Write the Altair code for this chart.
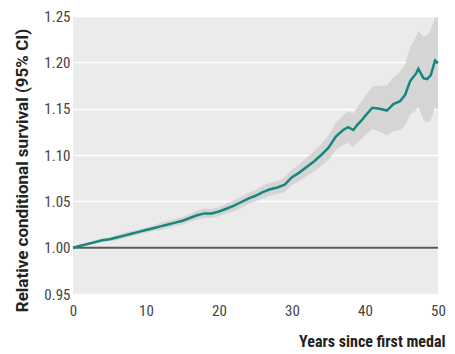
import altair as alt
import pandas as pd

years = [0, 1, 2, 3, 4, 5, 6, 7, 8, 9, 10, 11, 12, 13, 14, 15, 16, 17, 18, 19,
         20, 21, 22, 23, 24, 25, 26, 27, 28, 29, 30, 31, 32, 33, 34, 35, 36, 37,
         37.7, 38.4, 39, 39.5, 40, 41, 42, 43, 43.9, 44.8, 45.5, 46.2, 47, 47.3,
         48, 48.5, 49, 49.6, 50]
rcs = [1.000, 1.002, 1.004, 1.006, 1.008, 1.009, 1.011, 1.013, 1.015, 1.017,
       1.019, 1.021, 1.023, 1.025, 1.027, 1.029, 1.032, 1.035, 1.037, 1.037,
       1.039, 1.042, 1.045, 1.049, 1.053, 1.056, 1.060, 1.063, 1.065, 1.068,
       1.076, 1.081, 1.087, 1.093, 1.100, 1.108, 1.120, 1.127,
       1.130, 1.127, 1.133, 1.137, 1.142, 1.151, 1.150, 1.148, 1.155, 1.158,
       1.165, 1.180, 1.188, 1.193, 1.183, 1.182, 1.186, 1.202, 1.199]
lower = [1.000, 1.001, 1.003, 1.004, 1.006, 1.007, 1.008, 1.010, 1.012, 1.014,
         1.016, 1.018, 1.019, 1.021, 1.023, 1.025, 1.028, 1.030, 1.032, 1.032,
         1.034, 1.037, 1.039, 1.043, 1.047, 1.050, 1.053, 1.056, 1.058, 1.060,
         1.068, 1.072, 1.077, 1.082, 1.088, 1.095, 1.105, 1.111,
         1.113, 1.109, 1.114, 1.117, 1.121, 1.128, 1.125, 1.121, 1.126, 1.127,
         1.132, 1.144, 1.148, 1.152, 1.138, 1.135, 1.137, 1.152, 1.149]
upper = [1.000, 1.003, 1.005, 1.008, 1.010, 1.011, 1.014, 1.016, 1.018, 1.020,
         1.022, 1.024, 1.027, 1.029, 1.031, 1.033, 1.036, 1.040, 1.042, 1.042,
         1.044, 1.047, 1.051, 1.055, 1.059, 1.062, 1.067, 1.070, 1.072, 1.076,
         1.084, 1.090, 1.097, 1.104, 1.112, 1.121, 1.135, 1.143,
         1.147, 1.145, 1.152, 1.157, 1.163, 1.174, 1.175, 1.175, 1.184, 1.189,
         1.198, 1.216, 1.228, 1.234, 1.228, 1.229, 1.235, 1.248, 1.249]
x_ticks = [0, 10, 20, 30, 40, 50]
y_ticks = [0.95, 1.00, 1.05, 1.10, 1.15, 1.20, 1.25]
reference_value = [1.0]

df = pd.DataFrame({"year": years, "rcs": rcs, "lower": lower, "upper": upper})
ref = pd.DataFrame({"y": reference_value})

NARROW = "Liberation Sans Narrow, Roboto Condensed, Roboto, sans-serif"
WIDE = "Roboto, Liberation Sans, sans-serif"

xscale = alt.Scale(domain=[0, 50], nice=False, zero=False)
yscale = alt.Scale(domain=[0.95, 1.25], nice=False, zero=False)

x_axis = alt.Axis(values=x_ticks, title="Years since first medal", grid=False,
                  ticks=False, domain=False, labelPadding=9, labelFontSize=15,
                  labelFlush=False, labelOverlap=False,
                  labelFont=NARROW, labelColor="#444",
                  titleFont=NARROW, titleFontSize=16, titleFontWeight="bold",
                  titleColor="#222", titleX=372, titleY=52, titleAlign="right",
                  titleBaseline="alphabetic", titleAnchor="end")
y_axis = alt.Axis(values=y_ticks, format=".2f", title="Relative conditional survival (95% CI)",
                  grid=True, gridColor="white", gridWidth=1.5, ticks=False,
                  domain=False, labelPadding=3, labelFontSize=15,
                  labelFlush=False, labelOverlap=False,
                  labelFont=NARROW, labelColor="#444",
                  titleFont=WIDE, titleFontSize=17, titleFontWeight="bold",
                  titleColor="#222", titleX=-51, titleY=154, titleAngle=270,
                  titleAlign="center", titleBaseline="middle")

band = alt.Chart(df).mark_area(color="#d5d5d5", opacity=1).encode(
    x=alt.X("year:Q", scale=xscale, axis=x_axis),
    y=alt.Y("lower:Q", scale=yscale, axis=y_axis),
    y2="upper:Q",
)
rule = alt.Chart(ref).mark_rule(color="#5a5a5a", strokeWidth=2).encode(
    y=alt.Y("y:Q", scale=yscale),
)
line = alt.Chart(df).mark_line(color="#16877e", strokeWidth=2.5).encode(
    x=alt.X("year:Q", scale=xscale),
    y=alt.Y("rcs:Q", scale=yscale),
)

chart = (band + rule + line).properties(
    width=365, height=278,
    autosize=alt.AutoSizeParams(type="none"),
    padding={"left": 65, "top": 8, "right": 9, "bottom": 56},
).configure_view(fill="#ebebeb", stroke=None)

chart.save("out.html", embed_options={"renderer": "svg", "actions": False})
